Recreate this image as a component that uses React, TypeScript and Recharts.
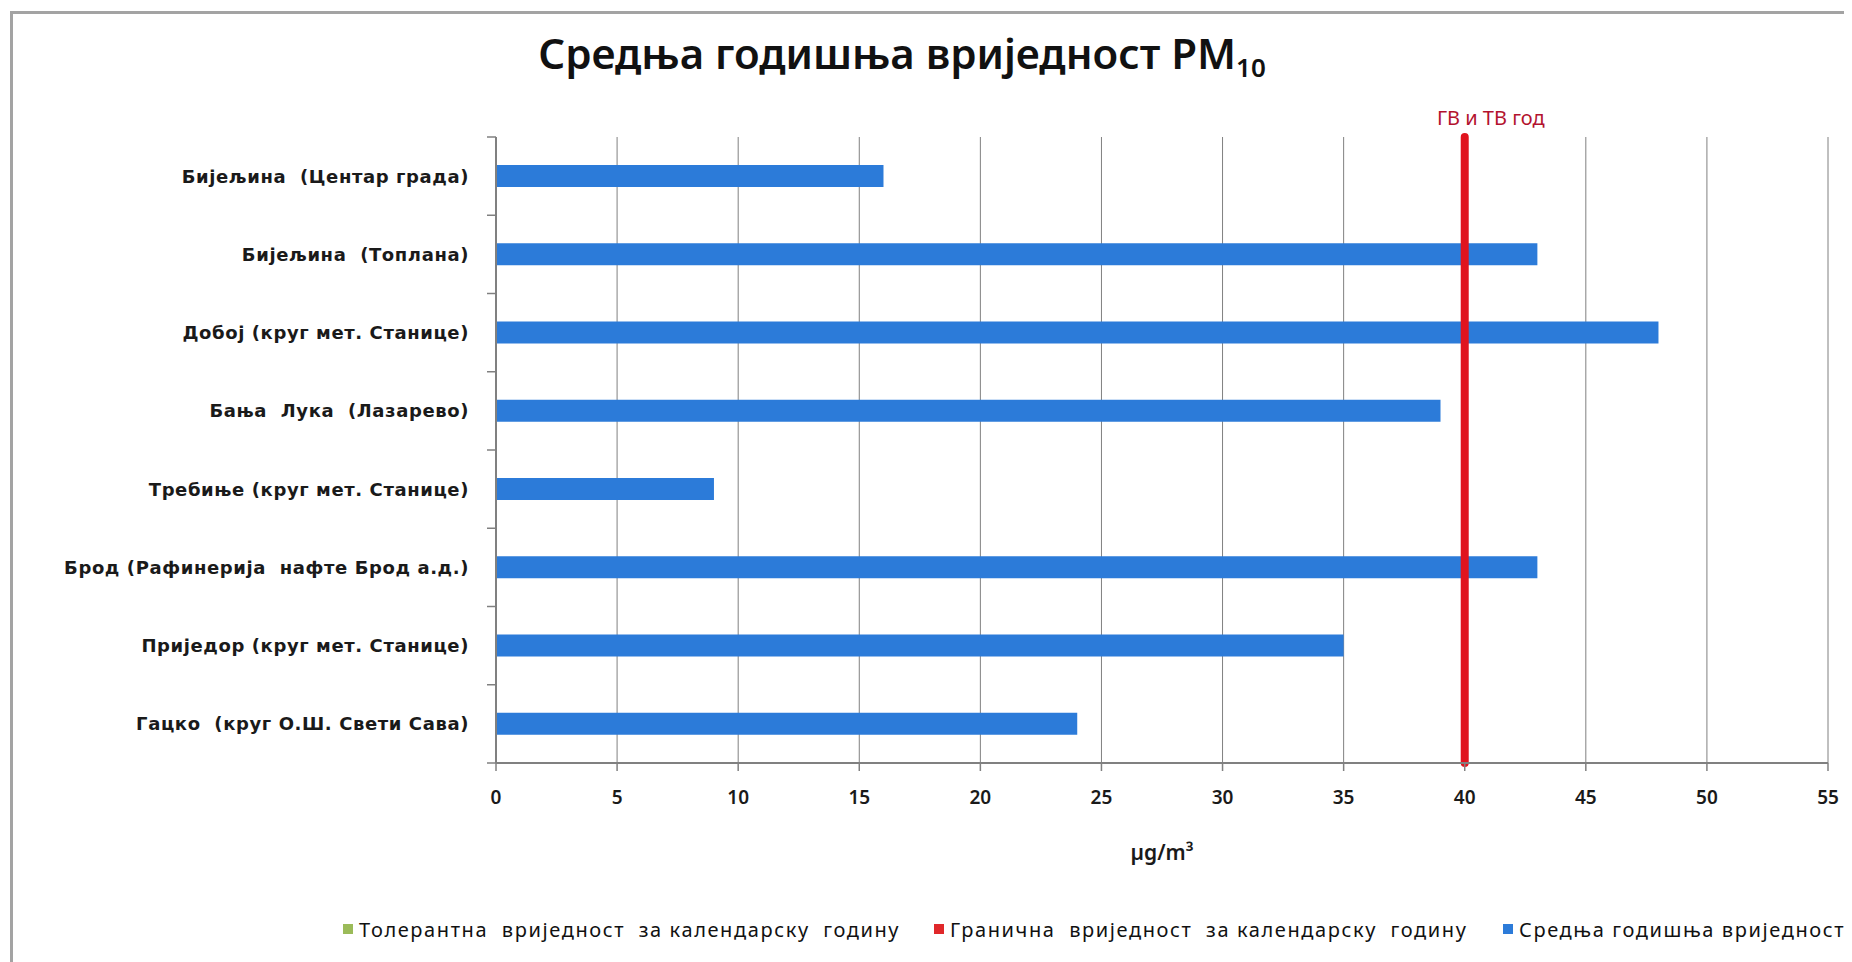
import {
  BarChart,
  Bar,
  XAxis,
  YAxis,
  CartesianGrid,
  ReferenceLine,
  Legend,
  Label,
} from "recharts";

// measuring stations, top to bottom
const stations = [
  "Бијељина  (Центар града)",
  "Бијељина  (Топлана)",
  "Добој (круг мет. Станице)",
  "Бања  Лука  (Лазарево)",
  "Требиње (круг мет. Станице)",
  "Брод (Рафинерија  нафте Брод а.д.)",
  "Приједор (круг мет. Станице)",
  "Гацко  (круг О.Ш. Свети Сава)",
];

// annual mean PM10, µg/m³
const annualMean = [16, 43, 48, 39, 9, 43, 35, 24];

// limit / tolerance value for the calendar year
const limitValue = 40;
const limitLabel = "ГВ и ТВ год";

const xTicks = [0, 5, 10, 15, 20, 25, 30, 35, 40, 45, 50, 55];

const legendItems = [
  { name: "Толерантна  вриједност  за календарску  годину", color: "#9bbb59", width: 591 },
  { name: "Гранична  вриједност  за календарску  годину", color: "#e0282a", width: 569 },
  { name: "Средња годишња вриједност", color: "#2c7bd9", width: 0 },
];

const data = stations.map((station, i) => ({ station, value: annualMean[i] }));

const GRID = "#808080";
const BLUE = "#2c7bd9";
const LABEL_GAP = 27;

// station name plus the short tick mark on the band edge above it
function StationTick(props: any) {
  const { x, y, payload, index } = props;
  const axisX = x + LABEL_GAP;
  const half = payload.offset || 0;
  const isLast = index === stations.length - 1;
  return (
    <g>
      <line x1={axisX} x2={axisX - 9} y1={y - half} y2={y - half} stroke={GRID} strokeWidth={1.5} />
      {isLast && (
        <line x1={axisX} x2={axisX - 9} y1={y + half} y2={y + half} stroke={GRID} strokeWidth={1.5} />
      )}
      <text
        x={x}
        y={y}
        textAnchor="end"
        dominantBaseline="central"
        fontFamily="'DejaVu Sans', sans-serif"
        fontWeight="bold"
        fontSize={18}
        letterSpacing={0.6}
        fill="#1a1a1a"
        style={{ whiteSpace: "pre" }}
      >
        {payload.value}
      </text>
    </g>
  );
}

function LegendRow() {
  return (
    <div
      style={{
        display: "flex",
        alignItems: "center",
        height: 30,
        fontFamily: "'Noto Sans', sans-serif",
        fontSize: 20,
        letterSpacing: 1.6,
        color: "#111",
        whiteSpace: "pre",
      }}
    >
      {legendItems.map((item) => (
        <div
          key={item.name}
          style={{
            display: "flex",
            alignItems: "center",
            width: item.width || undefined,
          }}
        >
          <span
            style={{
              display: "inline-block",
              width: 10,
              height: 10,
              background: item.color,
              marginRight: 6,
            }}
          />
          {item.name}
        </div>
      ))}
    </div>
  );
}

export default function App() {
  return (
    <div style={{ position: "relative", width: 1844, height: 954 }}>
      <div
        style={{
          position: "absolute",
          left: 2,
          top: 3,
          width: 1842,
          height: 951,
          borderTop: "3px solid #a3a3a3",
          borderLeft: "3px solid #a3a3a3",
          boxSizing: "border-box",
        }}
      />
      <div
        style={{
          position: "absolute",
          left: 0,
          top: 19,
          width: 1788,
          textAlign: "center",
          fontFamily: "'Noto Sans', sans-serif",
          fontWeight: 600,
          fontSize: 42,
          lineHeight: "52px",
          color: "#111",
        }}
      >
        Средња годишња вриједност PM
        <span style={{ fontSize: 26, verticalAlign: "-0.3em" }}>10</span>
      </div>

      <BarChart
        width={1844}
        height={954}
        data={data}
        layout="vertical"
        margin={{ top: 129, right: 24, left: 188, bottom: 59 }}
        style={{ position: "absolute", left: 0, top: 0 }}
      >
        <CartesianGrid horizontal={false} stroke={GRID} strokeWidth={1} />
        <YAxis
          type="category"
          dataKey="station"
          width={300}
          axisLine={{ stroke: GRID, strokeWidth: 2 }}
          tickLine={false}
          tickSize={0}
          tickMargin={LABEL_GAP}
          tick={<StationTick />}
          interval={0}
        />
        <XAxis
          type="number"
          domain={[0, 55]}
          ticks={xTicks}
          interval={0}
          height={110}
          axisLine={{ stroke: GRID, strokeWidth: 2 }}
          tickLine={{ stroke: GRID, strokeWidth: 1.5 }}
          tickSize={8}
          tickMargin={20}
          tick={{
            fill: "#1a1a1a",
            fontFamily: "'Noto Sans', sans-serif",
            fontWeight: 600,
            fontSize: 19,
          }}
        >
          <Label
            value="µg/m³"
            position="insideBottom"
            offset={13}
            fill="#1a1a1a"
            fontFamily="'Noto Sans', sans-serif"
            fontWeight={600}
            fontSize={21}
          />
        </XAxis>
        <Bar
          dataKey="value"
          fill={BLUE}
          barSize={22}
          isAnimationActive={false}
        />
        <ReferenceLine
          x={limitValue}
          stroke="#e0141e"
          strokeWidth={8}
          strokeLinecap="round"
        >
          <Label
            value={limitLabel}
            position="top"
            offset={12}
            dx={26}
            fill="#b3122e"
            fontFamily="'Noto Sans', sans-serif"
            fontSize={20}
          />
        </ReferenceLine>
        <Legend
          verticalAlign="bottom"
          height={30}
          content={() => <LegendRow />}
          wrapperStyle={{ left: 335, bottom: 18, width: "auto" }}
        />
      </BarChart>
    </div>
  );
}
